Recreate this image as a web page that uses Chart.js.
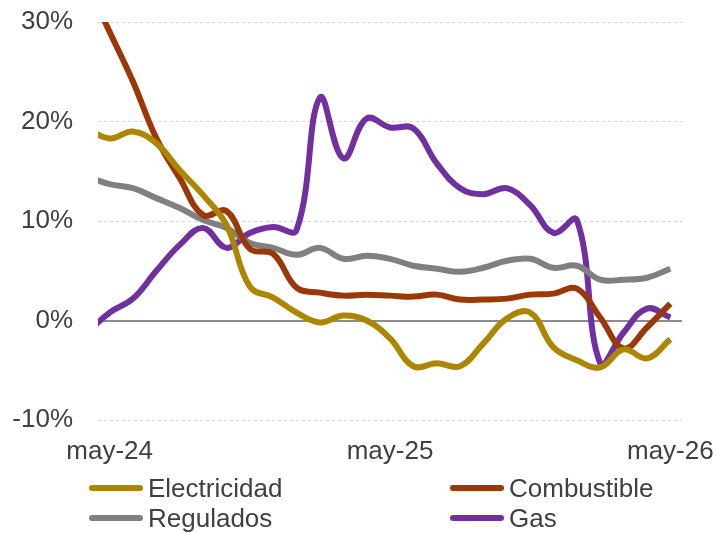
<!DOCTYPE html>
<html>
<head>
<meta charset="utf-8">
<script src="https://cdn.jsdelivr.net/npm/chart.js@4"></script>
<style>
  body { margin: 0; background: #fff; }
  #wrap { position: relative; width: 717px; height: 533px; }
  #legend { position: absolute; left: 0; top: 470px; width: 717px; height: 63px;
            font-family: "Liberation Sans", Arial, sans-serif; font-size: 26px; color: #404040; }
  .item { position: absolute; display: flex; align-items: center; height: 30px; }
  .swatch { width: 54px; height: 6px; border-radius: 3px; margin-right: 5px; }
</style>
</head>
<body>
<div id="wrap">
  <canvas id="myChart" width="717" height="533"></canvas>
  <div id="legend"></div>
</div>
<script>
// months from abr-24 (partly outside the axis) to may-26
const meses = ['abr-24','may-24','jun-24','jul-24','ago-24','sep-24','oct-24','nov-24','dic-24',
  'ene-25','feb-25','mar-25','abr-25','may-25','jun-25','jul-25','ago-25','sep-25','oct-25',
  'nov-25','dic-25','ene-26','feb-26','mar-26','abr-26','may-26'];
const tickMeses = ['may-24','may-25','may-26'];

const electricidad = [19.3, 18.3, 19.0, 17.8, 15.1, 12.6, 9.6, 3.4, 2.3, 0.8, -0.2, 0.5, 0.0,
  -1.8, -4.6, -4.3, -4.6, -2.3, 0.2, 0.8, -2.7, -4.0, -4.7, -2.9, -3.8, -1.9];
const combustible = [34, 29, 24, 18.3, 14.3, 10.6, 11.0, 7.2, 6.7, 3.3, 2.8, 2.5, 2.6,
  2.5, 2.4, 2.6, 2.1, 2.1, 2.2, 2.6, 2.7, 3.2, 0.3, -2.8, -0.7, 1.7];
const regulados = [14.5, 13.7, 13.3, 12.3, 11.3, 10.1, 9.3, 7.8, 7.3, 6.6, 7.3, 6.2, 6.5,
  6.2, 5.5, 5.2, 4.9, 5.3, 6.0, 6.2, 5.3, 5.5, 4.1, 4.1, 4.3, 5.2];
const gas = [-1.3, 0.8, 2.2, 5.0, 7.6, 9.3, 7.3, 8.8, 9.4, 9.1, 22.4, 16.3, 20.3, 19.4,
  19.3, 15.8, 13.3, 12.7, 13.3, 11.6, 8.8, 10.1, -4.3, -1.2, 1.2, 0.3];

// x value 0 = may-24
const puntos = (serie) => serie.map((v, i) => ({ x: i - 1, y: v }));

const serie = (label, data, color) => ({
  label: label,
  data: puntos(data),
  borderColor: color,
  backgroundColor: color,
  borderWidth: 6,
  pointRadius: 0,
  tension: 0.4,
  clip: 0
});

const fuente = { family: '"Liberation Sans", Arial, sans-serif', size: 26 };

// linea del cero, por debajo de las series
const lineaCero = {
  id: 'lineaCero',
  beforeDatasetsDraw(chart) {
    const { ctx, chartArea, scales } = chart;
    const y = Math.round(scales.y.getPixelForValue(0));
    ctx.save();
    ctx.strokeStyle = '#8c8c8c';
    ctx.lineWidth = 2;
    ctx.beginPath();
    ctx.moveTo(chartArea.left, y);
    ctx.lineTo(chartArea.right, y);
    ctx.stroke();
    ctx.restore();
  }
};

const ctx = document.getElementById('myChart');

const chart = new Chart(ctx, {
  type: 'line',
  data: {
    datasets: [
      serie('Electricidad', electricidad, '#AD8600'),
      serie('Combustible', combustible, '#9A3807'),
      serie('Regulados', regulados, '#808080'),
      serie('Gas', gas, '#7030A0')
    ]
  },
  options: {
    responsive: false,
    animation: false,
    layout: { padding: { top: 22, right: 35, bottom: 53, left: 0 } },
    plugins: { legend: { display: false }, tooltip: { enabled: false } },
    scales: {
      x: {
        type: 'linear',
        min: -0.5,
        max: 24.5,
        grid: { display: false },
        border: { display: false },
        afterBuildTicks: (scale) => { scale.ticks = [{ value: 0 }, { value: 12 }, { value: 24 }]; },
        afterFit: (scale) => {
          scale.height = 60;
          scale.paddingLeft = 0;
          scale.paddingRight = 0;
        },
        ticks: {
          font: fuente,
          color: '#404040',
          padding: 8,
          maxRotation: 0,
          callback: (v) => tickMeses[v / 12]
        }
      },
      y: {
        min: -10,
        max: 30,
        afterFit: (scale) => {
          scale.width = 98;
          scale.paddingTop = 0;
          scale.paddingBottom = 0;
        },
        grid: { color: (c) => c.tick.value === 0 ? 'rgba(0,0,0,0)' : '#d4d4d4', lineWidth: 1, drawTicks: false },
        border: { display: false, dash: [3, 3] },
        ticks: {
          stepSize: 10,
          font: fuente,
          color: '#404040',
          padding: 25,
          callback: (v) => v + '%'
        }
      }
    }
  },
  plugins: [lineaCero]
});

// leyenda en dos columnas
const legend = document.getElementById('legend');
const posiciones = [[89, 3], [450, 3], [89, 33], [450, 33]];
chart.data.datasets.forEach((ds, i) => {
  const item = document.createElement('div');
  item.className = 'item';
  item.style.left = posiciones[i][0] + 'px';
  item.style.top = posiciones[i][1] + 'px';
  item.innerHTML = `<span class="swatch" style="background:${ds.borderColor}"></span>${ds.label}`;
  legend.appendChild(item);
});
</script>
</body>
</html>
